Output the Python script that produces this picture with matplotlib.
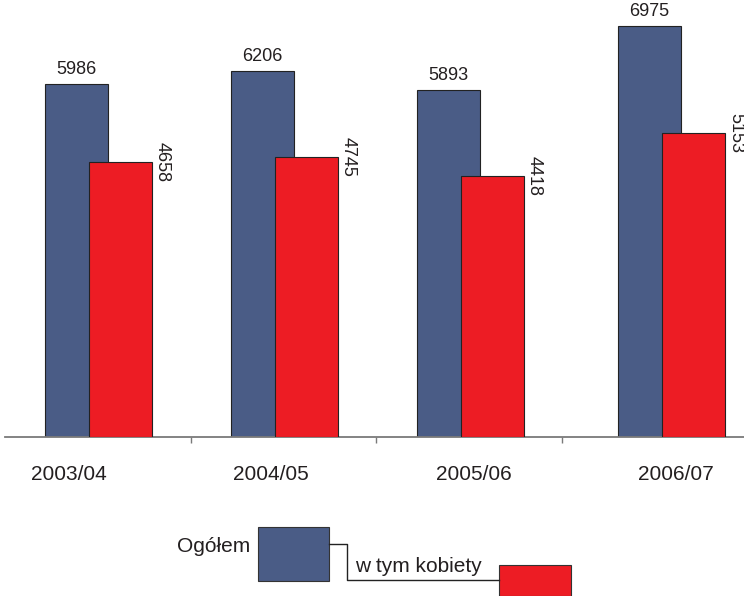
import numpy as np
import matplotlib
matplotlib.use("Agg")
import matplotlib.pyplot as plt
from matplotlib.patches import Rectangle

plt.rcParams['font.family'] = ['Liberation Sans', 'DejaVu Sans']

# data
years = ['2003/04', '2004/05', '2005/06', '2006/07']
ogolem = [5986, 6206, 5893, 6975]
kobiety = [4658, 4745, 4418, 5153]

blue = '#4a5c86'
red = '#ed1c24'
txt = '#231f20'

W, H = 744, 596
fig = plt.figure(figsize=(W / 100, H / 100), dpi=100)

# main axes: baseline at y=437 px, spans x 5..744 px
ax = fig.add_axes([5 / W, (H - 437) / H, (W - 5) / W, 437 / H])
x = np.arange(len(years)).astype(float)
x[-1] += 0.085  # last group sits a little further right in the original
bw = 0.34
ax.bar(x - 0.113, ogolem, bw, color=blue, edgecolor='#222222', linewidth=0.8, zorder=2)
ax.bar(x + 0.124, kobiety, bw, color=red, edgecolor='#222222', linewidth=0.8, zorder=3)

ax.set_xlim(-0.5, 3.48)
ax.set_ylim(0, 7411)

for xi, v in zip(x, ogolem):
    ax.annotate(str(v), (xi - 0.113, v), xytext=(0, 4), textcoords='offset points',
                ha='center', va='bottom', fontsize=13, color=txt)
for xi, v in zip(x, kobiety):
    ax.annotate(str(v), (xi + 0.124 + bw / 2, v), xytext=(1.2, 0), textcoords='offset points',
                ha='left', va='center', rotation=270, fontsize=13, color=txt,
                annotation_clip=False)

for s in ['top', 'right', 'left']:
    ax.spines[s].set_visible(False)
ax.spines['bottom'].set_color('#7a7a7a')
ax.spines['bottom'].set_linewidth(1.3)
ax.set_yticks([])
# category labels are spread a bit wider than the bar groups
ax.set_xticks(np.arange(len(years)) * 1.09 - 0.156)
ax.set_xticklabels(years, fontsize=15, color=txt)
ax.tick_params(axis='x', which='major', length=0, pad=20)
ax.set_xticks([0.5, 1.5, 2.5], minor=True)
ax.tick_params(axis='x', which='minor', length=4.5, width=1, color='#7a7a7a', direction='out')

# legend drawn in pixel coordinates on an overlay
lg = fig.add_axes([0, 0, 1, 1], facecolor='none')
lg.set_xlim(0, W)
lg.set_ylim(H, 0)
lg.axis('off')
lg.add_patch(Rectangle((258, 527), 71, 54, facecolor=blue, edgecolor='#333333', linewidth=0.8))
lg.add_patch(Rectangle((499, 565), 72, 31, facecolor=red, edgecolor='#333333', linewidth=0.8,
                       clip_on=False))
lg.plot([329, 347, 347, 499], [544, 544, 580, 580], color='#222222', linewidth=1)
lg.text(250, 547, 'Ogółem', ha='right', va='center', fontsize=15, color=txt)
lg.text(355, 567, 'w tym kobiety', ha='left', va='center', fontsize=15, color=txt)

fig.savefig('out.png', dpi=100)
